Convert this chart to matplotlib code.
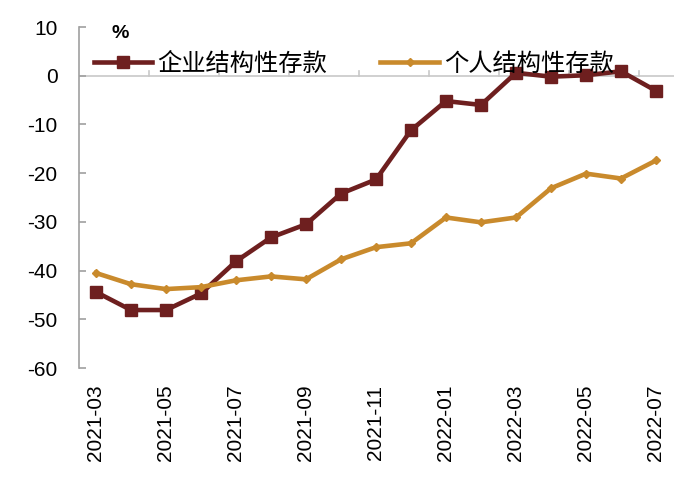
import matplotlib
matplotlib.use('Agg')
import matplotlib.pyplot as plt

months = ['2021-03', '2021-04', '2021-05', '2021-06', '2021-07', '2021-08',
          '2021-09', '2021-10', '2021-11', '2021-12', '2022-01', '2022-02',
          '2022-03', '2022-04', '2022-05', '2022-06', '2022-07']
corp = [-44.4, -48.1, -48.1, -44.7, -38.1, -33.2, -30.5, -24.2, -21.3,
        -11.2, -5.2, -6.0, 0.6, -0.2, 0.1, 0.9, -3.1]
personal = [-40.5, -42.8, -43.8, -43.4, -42.0, -41.2, -41.8, -37.7, -35.2,
            -34.4, -29.1, -30.1, -29.1, -23.1, -20.1, -21.1, -17.4]

corp_color = '#6E1F1F'
pers_color = '#C98A2C'

plt.rcParams['font.family'] = ['Liberation Sans', 'Noto Sans CJK SC']
plt.rcParams['axes.unicode_minus'] = False

fig = plt.figure(figsize=(7, 4.78), dpi=100)
ax = fig.add_axes([78.5 / 700, 1 - 368 / 478, 595 / 700, 341 / 478])

x = list(range(len(months)))
ax.plot(x, corp, color=corp_color, lw=3.3, marker='s', ms=8,
        label='企业结构性存款', zorder=3)
ax.plot(x, personal, color=pers_color, lw=3.3, marker='D', ms=4.5,
        label='个人结构性存款', zorder=3)

ax.set_xlim(-0.5, len(months) - 0.5)
ax.set_ylim(-60, 10)
ax.set_yticks(range(-60, 11, 10))
ax.set_xticks(x[::2])
ax.set_xticklabels(months[::2], rotation=90, fontsize=15)

# category axis at y=0
ax.axhline(0, color='#C8C8C8', lw=1.2, zorder=1)
for i in range(1, len(months) - 1, 2):
    ax.plot([i + 0.5, i + 0.5], [0, 0.9], color='#C8C8C8', lw=1.2, zorder=1)

for s in ['top', 'right', 'bottom']:
    ax.spines[s].set_visible(False)
ax.spines['left'].set_color('#A0A0A0')
ax.spines['left'].set_linewidth(1.2)
ax.tick_params(axis='y', direction='in', length=5, width=1.2,
               color='#A0A0A0', labelsize=15, pad=15)
ax.tick_params(axis='x', length=0, pad=12)

fig.text(120 / 700, 1 - 33 / 478, '%', fontsize=14, fontweight='bold',
         ha='center', va='center')

ax.legend(loc='center left', bbox_to_anchor=(94 / 700, 1 - 64 / 478),
          bbox_transform=fig.transFigure, ncol=2, frameon=False,
          prop={'family': ['Noto Sans CJK SC'], 'size': 17.5},
          handlelength=2.4, handletextpad=0.2, columnspacing=2.2,
          borderpad=0, borderaxespad=0)

fig.savefig('out.png', dpi=100)
